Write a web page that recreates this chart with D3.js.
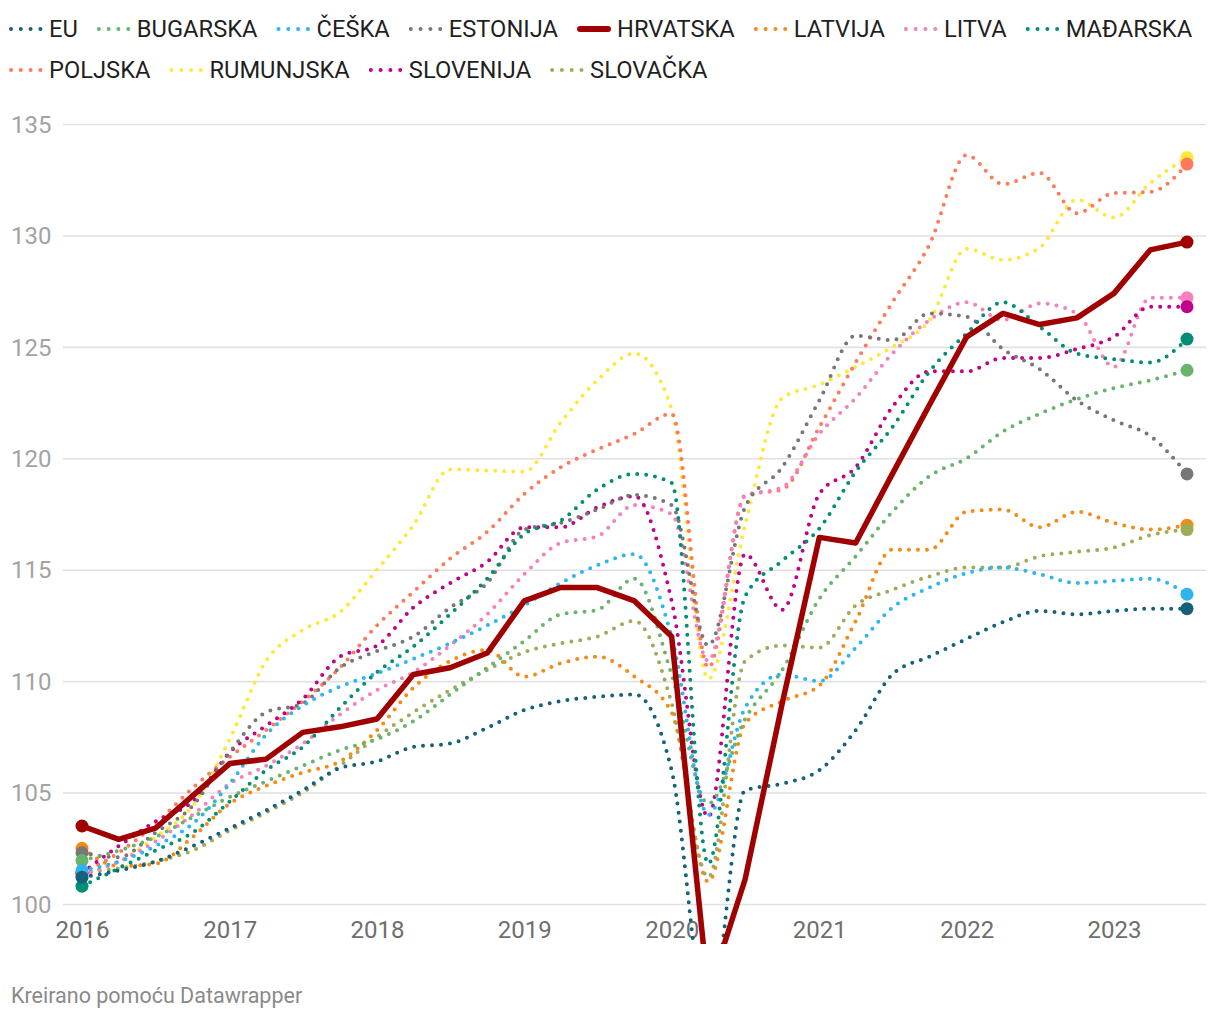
<!DOCTYPE html>
<html><head><meta charset="utf-8">
<script src="https://cdn.jsdelivr.net/npm/d3@7"></script>
<style>
body{margin:0;background:#fff;}
text{font-family:Roboto,"Noto Sans",sans-serif;}
</style>
</head><body>
<svg id="chart" width="1220" height="1020"></svg>
<script>
const quarters = ["2016-01-01","2016-04-01","2016-07-01","2016-10-01",
"2017-01-01","2017-04-01","2017-07-01","2017-10-01",
"2018-01-01","2018-04-01","2018-07-01","2018-10-01",
"2019-01-01","2019-04-01","2019-07-01","2019-10-01",
"2020-01-01","2020-04-01","2020-07-01","2020-10-01",
"2021-01-01","2021-04-01","2021-07-01","2021-10-01",
"2022-01-01","2022-04-01","2022-07-01","2022-10-01",
"2023-01-01","2023-04-01","2023-07-01"];

const seriesNames = ["EU","BUGARSKA","ČEŠKA","ESTONIJA","HRVATSKA","LATVIJA","LITVA","MAĐARSKA","POLJSKA","RUMUNJSKA","SLOVENIJA","SLOVAČKA"];
const seriesColors = ["#15607a","#69b46c","#2db5f0","#777777","#a00000","#f68a14","#f580bd","#008f74","#ff7a5a","#ffe83a","#c2008a","#a0ab57"];

const EU        = [101.2,101.5,101.9,102.6,103.4,104.2,105.1,106.1,106.4,107.05,107.2,107.9,108.7,109.1,109.3,109.4,106.0,94.8,105.1,105.4,106.0,107.8,110.3,111.1,111.9,112.65,113.15,113.0,113.15,113.25,113.25];
const BUGARSKA  = [101.95,102.4,103.0,103.9,104.8,105.5,106.2,106.9,107.4,108.2,109.4,110.6,111.8,113.0,113.2,114.6,110.3,104.5,108.3,110.5,113.7,115.6,117.6,119.2,120.0,121.2,122.0,122.65,123.15,123.5,123.95];
const CESKA     = [101.5,101.9,102.6,103.6,105.4,107.6,108.9,109.75,110.35,111.0,111.7,112.5,113.4,114.4,115.2,115.7,112.0,104.0,108.8,110.3,110.0,111.5,113.3,114.2,114.85,115.1,114.8,114.4,114.5,114.6,113.9];
const ESTONIJA  = [102.3,102.1,103.2,104.4,106.8,108.6,109.0,110.6,111.35,112.0,113.3,114.4,116.8,117.1,117.7,118.35,117.9,111.6,117.8,119.6,122.6,125.5,125.3,126.5,126.35,124.9,124.0,122.6,121.7,121.0,119.3];
const HRVATSKA  = [103.5,102.9,103.4,104.85,106.3,106.5,107.7,107.95,108.3,110.3,110.6,111.26,113.6,114.2,114.2,113.6,112.0,96.0,101.1,109.0,116.45,116.2,119.3,122.4,125.45,126.5,126.0,126.3,127.4,129.35,129.7];
const LATVIJA   = [102.5,101.7,101.8,103.0,104.5,105.3,105.9,106.4,107.8,109.7,110.9,111.4,110.2,110.8,111.1,110.2,108.6,101.0,108.1,109.1,109.8,112.7,115.9,115.9,117.6,117.7,116.9,117.6,117.1,116.8,117.0];
const LITVA     = [101.3,101.9,102.8,104.0,105.4,106.2,107.2,108.5,109.6,110.4,111.6,113.0,114.8,116.2,116.5,117.9,117.5,110.9,118.3,118.7,121.1,122.7,124.7,126.2,127.0,126.2,126.95,126.5,124.1,127.2,127.2];
const MADARSKA  = [100.8,101.6,102.4,103.2,104.6,106.0,107.05,108.8,110.4,111.55,113.0,114.6,116.6,117.2,118.6,119.3,118.9,101.8,113.8,115.4,116.85,119.4,121.4,123.9,125.6,127.0,125.9,124.7,124.45,124.3,125.35];
const POLJSKA   = [101.4,102.3,103.6,105.2,106.6,107.8,109.1,110.6,112.5,114.0,115.5,116.7,118.4,119.6,120.4,121.1,122.0,110.6,118.35,118.6,121.4,124.3,127.0,129.6,133.6,132.3,132.8,131.0,131.9,131.95,133.2];
const RUMUNJSKA = [101.3,101.9,103.0,104.4,107.4,110.9,112.3,113.1,115.0,117.0,119.5,119.45,119.4,121.6,123.5,124.7,122.2,110.1,117.0,122.7,123.3,124.1,125.0,126.2,129.4,128.9,129.45,131.6,130.8,132.35,133.5];
const SLOVENIJA = [101.4,102.6,103.7,104.6,106.8,108.0,109.2,111.1,111.6,113.3,114.4,115.35,116.9,116.9,117.8,118.3,113.6,103.9,115.7,113.2,118.4,119.6,122.3,123.9,123.9,124.5,124.5,124.9,125.45,126.8,126.8];
const SLOVACKA  = [101.4,101.6,101.9,102.4,103.3,104.1,105.0,106.2,107.5,108.6,109.6,110.5,111.3,111.7,112.0,112.7,109.0,101.2,110.9,111.6,111.5,113.4,114.1,114.7,115.1,115.1,115.6,115.8,116.0,116.55,116.8];

const seriesValues = [EU,BUGARSKA,CESKA,ESTONIJA,HRVATSKA,LATVIJA,LITVA,MADARSKA,POLJSKA,RUMUNJSKA,SLOVENIJA,SLOVACKA];
const drawOrder = ["RUMUNJSKA","POLJSKA","LATVIJA","SLOVAČKA","LITVA","SLOVENIJA","ESTONIJA","BUGARSKA","ČEŠKA","MAĐARSKA","EU","HRVATSKA"];
const highlighted = "HRVATSKA";

const yTicks = [100,105,110,115,120,125,130,135];
const xTickYears = ["2016","2017","2018","2019","2020","2021","2022","2023"];
const footerText = "Kreirano pomoću Datawrapper";

const parse = d3.timeParse("%Y-%m-%d");
const dates = quarters.map(parse);
const series = seriesNames.map((n,i)=>({name:n,color:seriesColors[i],values:seriesValues[i].map((v,j)=>({date:dates[j],value:v}))}));

const svg = d3.select("#chart");
const x = d3.scaleTime().domain([dates[0], dates[dates.length-1]]).range([82,1187]);
const y = d3.scaleLinear().domain([100,135]).range([904,124]);

// y axis / grid
const gy = svg.append("g").attr("transform","translate(63,0)")
  .call(d3.axisLeft(y).tickValues(yTicks).tickSize(-(1206-63)).tickFormat(d3.format("d")));
gy.select(".domain").remove();
gy.selectAll(".tick line").attr("stroke","#e1e1e1").attr("stroke-width",1.6);
gy.selectAll(".tick text").attr("x",-52).attr("dy","0.34em").attr("text-anchor","start")
  .attr("fill","#a3a3a3").style("font-size","24px").style("font-family","Roboto");

// x axis
const gx = svg.append("g").attr("transform","translate(0,930)")
  .call(d3.axisBottom(x).tickValues(xTickYears.map(yv=>parse(yv+"-01-01"))).tickSize(0).tickFormat(d3.timeFormat("%Y")));
gx.select(".domain").remove();
gx.selectAll(".tick text").attr("y",0).attr("dy","0.35em").attr("fill","#6e6e6e")
  .style("font-size","24px").style("font-family","Roboto");

// clip
svg.append("clipPath").attr("id","clip").append("rect").attr("x",0).attr("y",100).attr("width",1220).attr("height",844);

const lineCurve = d3.line().x(d=>x(d.date)).y(d=>y(d.value)).curve(d3.curveMonotoneX);
const lineStraight = d3.line().x(d=>x(d.date)).y(d=>y(d.value));

const plot = svg.append("g").attr("clip-path","url(#clip)");
drawOrder.forEach(name=>{
  const s = series.find(t=>t.name===name);
  const hl = name===highlighted;
  const g = plot.append("g");
  g.append("path").attr("d",(hl?lineStraight:lineCurve)(s.values))
    .attr("fill","none").attr("stroke",s.color)
    .attr("stroke-width",hl?5.5:4)
    .attr("stroke-linecap","round").attr("stroke-linejoin","round")
    .attr("stroke-dasharray",hl?null:"0 9");
  [s.values[0], s.values[s.values.length-1]].forEach(d=>{
    g.append("circle").attr("cx",x(d.date)).attr("cy",y(d.value)).attr("r",6.5).attr("fill",s.color);
  });
});

// legend
const legend = svg.append("g");
let lx = 11, ly = 29;
const rowH = 41, maxX = 1210;
series.forEach(s=>{
  const g = legend.append("g");
  const t = g.append("text").text(s.name).attr("fill","#1f1f1f")
    .style("font-size","23.7px").style("font-family","Roboto").attr("dy","0.35em");
  const w = t.node().getComputedTextLength();
  const itemW = 38 + w;
  if (lx + itemW > maxX) { lx = 11; ly += rowH; }
  g.attr("transform",`translate(${lx},${ly})`);
  t.attr("x",38);
  if (s.name===highlighted) {
    g.append("line").attr("x1",1).attr("x2",29).attr("y1",0).attr("y2",0)
      .attr("stroke",s.color).attr("stroke-width",6).attr("stroke-linecap","round");
  } else {
    g.append("line").attr("x1",0).attr("x2",30).attr("y1",0).attr("y2",0)
      .attr("stroke",s.color).attr("stroke-width",4).attr("stroke-linecap","round")
      .attr("stroke-dasharray","0 9.8");
  }
  lx += itemW + 21;
});

svg.append("text").attr("x",11).attr("y",1003).text(footerText)
  .attr("fill","#8a8a8a").style("font-size","21.5px").style("font-family","Roboto");
</script>
</body></html>
